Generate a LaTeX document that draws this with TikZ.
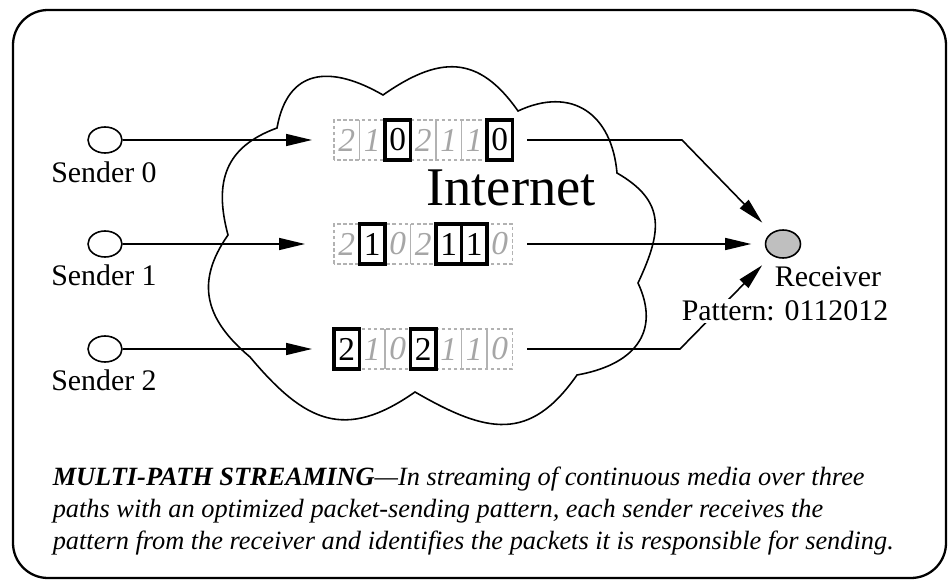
\documentclass[tikz,border=0pt]{standalone}
\usepackage{fontspec}
\setmainfont{Liberation Serif}
\usetikzlibrary{arrows.meta,shapes.geometric}

\begin{document}
\begin{tikzpicture}[x=0.02cm,y=0.02cm,line width=0.9pt,
		flow/.style={-{Triangle[length=0.52cm,width=0.24cm]}},
		host/.style={draw,ellipse,inner sep=0pt,minimum width=0.68cm,minimum height=0.52cm},
		receiver/.style={host,fill=black!25,minimum width=0.7cm,minimum height=0.56cm},
		label/.style={font=\fontsize{17}{20}\selectfont},
		pk0/.style={text=black!35,font=\fontsize{19}{22}\selectfont\itshape,inner sep=0pt,minimum width=0.51cm,minimum height=0.8cm},
		pk1/.style={draw,line width=1.8pt,font=\fontsize{19}{22}\selectfont,inner sep=0pt,minimum width=0.51cm,minimum height=0.8cm},
		slot/.style={draw=black!30,line width=0.6pt},
		caption/.style={anchor=base west,font=\fontsize{15}{18}\selectfont\itshape,inner sep=0pt}]
		\useasboundingbox ( 0, 0 ) rectangle ( 949, 582 );

		% рамка
		\draw [line width=1.3pt,rounded corners=0.7cm] ( 13, 4 ) rectangle ( 946, 572 );

		% облако
		\coordinate (A) at ( 277, 454 );
		\coordinate (B) at ( 383, 487 );
		\coordinate (C) at ( 518, 471 );
		\coordinate (D) at ( 617, 409 );
		\coordinate (E) at ( 638, 299 );
		\coordinate (F) at ( 577, 207 );
		\coordinate (G) at ( 415, 190 );
		\coordinate (H) at ( 250, 225 );
		\coordinate (I) at ( 228, 347 );
		\draw (A) to [ out = 80, in = 150, looseness = 1.4 ] (B) to [ out = 35, in = 125, looseness = 1.3 ] (C)
			to [ out = 25, in = 95, looseness = 1.3 ] (D) to [ out = -30, in = 65, looseness = 1.3 ] (E)
			to [ out = -65, in = 10, looseness = 1.3 ] (F) to [ out = -125, in = -30, looseness = 1.3 ] (G)
			to [ out = -145, in = -50, looseness = 1.3 ] (H) to [ out = 140, in = -125, looseness = 1.2 ] (I)
			to [ out = 105, in = -160, looseness = 1.2 ] (A) -- cycle;
		\node [font=\fontsize{31}{36}\selectfont] (net) at ( 511, 394 ) {Internet};

		% отправители
		\node [host] (s0) at ( 105, 442 ) {};
		\node [host] (s1) at ( 105, 338 ) {};
		\node [host] (s2) at ( 105, 233 ) {};
		\node [label] (l0) at ( 104, 410 ) {Sender 0};
		\node [label] (l1) at ( 104, 307 ) {Sender 1};
		\node [label] (l2) at ( 104, 202 ) {Sender 2};
		\coordinate (in0) at ( 312, 442 );
		\coordinate (in1) at ( 305, 338 );
		\coordinate (in2) at ( 312, 233 );
		\draw [flow] (s0) -- (in0);
		\draw [flow] (s1) -- (in1);
		\draw [flow] (s2) -- (in2);

		% пакеты отправителя 0
		\draw [slot,dash pattern=on 2pt off 1.5pt] ( 334, 422 ) rectangle ( 512.5, 462 );
		\foreach \i in {1,...,6} \draw [slot] ( 334+25.5*\i, 422 ) -- ( 334+25.5*\i, 462 );
		\foreach \d/\b [count=\i from 0] in {2/0,1/0,0/1,2/0,1/0,1/0,0/1}
			\node [pk\b] (p0\i) at ( 346.75+25.5*\i, 442 ) {\d};

		% пакеты отправителя 1
		\draw [slot,dash pattern=on 2pt off 1.5pt] ( 334, 318 ) rectangle ( 512.5, 358 );
		\foreach \i in {1,...,6} \draw [slot] ( 334+25.5*\i, 318 ) -- ( 334+25.5*\i, 358 );
		\foreach \d/\b [count=\i from 0] in {2/0,1/1,0/0,2/0,1/1,1/1,0/0}
			\node [pk\b] (p1\i) at ( 346.75+25.5*\i, 338 ) {\d};

		% пакеты отправителя 2
		\draw [slot,dash pattern=on 2pt off 1.5pt] ( 334, 213 ) rectangle ( 512.5, 253 );
		\foreach \i in {1,...,6} \draw [slot] ( 334+25.5*\i, 213 ) -- ( 334+25.5*\i, 253 );
		\foreach \d/\b [count=\i from 0] in {2/1,1/0,0/0,2/1,1/0,1/0,0/0}
			\node [pk\b] (p2\i) at ( 346.75+25.5*\i, 233 ) {\d};

		% получатель
		\node [receiver] (rx) at ( 783, 338 ) {};
		\node [label] (rl) at ( 828, 305 ) {Receiver};
		\coordinate (out0) at ( 527, 442 );
		\coordinate (out1) at ( 527, 338 );
		\coordinate (out2) at ( 527, 233 );
		\coordinate (k0) at ( 682, 442 );
		\coordinate (k2) at ( 680, 233 );
		\draw [flow,shorten >=0.27cm] (out0) -- (k0) -- (rx);
		\draw [flow,shorten >=0.27cm] (out1) -- (rx);
		\draw [flow,shorten >=0.27cm] (out2) -- (k2) -- (rx);
		\node [label,fill=white,inner sep=1pt] (pat) at ( 785, 271 ) {Pattern: 0112012};

		% подпись
		\node [caption] (c1) at ( 52, 97 ) {\textbf{MULTI-PATH STREAMING}---In streaming of continuous media over three};
		\node [caption] (c2) at ( 52, 65 ) {paths with an optimized packet-sending pattern, each sender receives the};
		\node [caption] (c3) at ( 52, 33 ) {pattern from the receiver and identifies the packets it is responsible for sending.};
	\end{tikzpicture}
\end{document}
